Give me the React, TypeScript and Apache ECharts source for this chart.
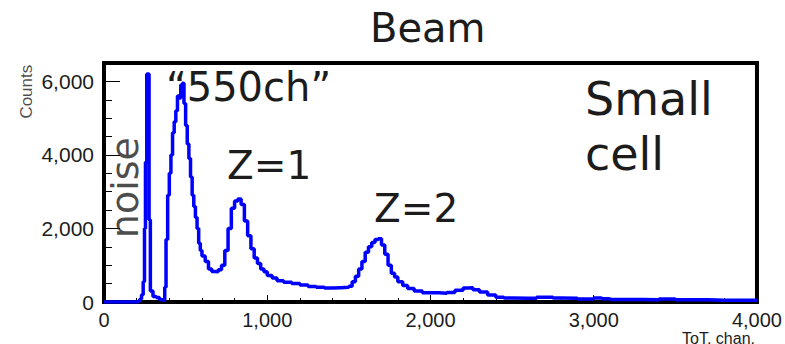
import React, { useEffect, useRef } from "react";
import * as echarts from "echarts";

// ToT channel (bin left edge) and counts
const toT = [
  0, 200, 210, 220, 230, 240, 248, 254, 262, 276, 284, 300, 320, 340, 360, 372, 380, 390, 400, 410,
  420, 430, 440, 450, 460, 470, 480, 490, 500, 510, 520, 530, 540, 550, 560, 570, 580, 590, 600, 620,
  640, 660, 680, 700, 720, 740, 760, 780, 800, 820, 840, 860, 880, 900, 920, 940, 960, 980, 1000, 1030,
  1060, 1100, 1150, 1200, 1250, 1300, 1350, 1400, 1450, 1500, 1520, 1540, 1560, 1580, 1600, 1620, 1640, 1660, 1680, 1700,
  1720, 1740, 1760, 1780, 1800, 1830, 1860, 1900, 1950, 2000, 2050, 2100, 2150, 2200, 2230, 2260, 2300, 2350, 2400, 2450,
  2500, 2600, 2650, 2700, 2750, 2800, 2900, 3000, 3050, 3100, 3200, 3300, 3400, 3500, 3600, 3700, 3800, 3900, 4000,
];
const counts = [
  0, 0, 30, 80, 200, 550, 2000, 3800, 6200, 2240, 300, 150, 120, 60, 50, 400, 1700, 2900, 3500, 4000,
  4600, 4900, 5200, 5600, 5550, 5900, 5950, 5400, 4800, 4300, 3900, 3400, 2900, 2600, 2300, 2000, 1600, 1400, 1250, 1100,
  900, 830, 820, 880, 1000, 1400, 2000, 2550, 2750, 2800, 2650, 2200, 1800, 1450, 1200, 1050, 900, 820, 720, 650,
  580, 540, 500, 460, 420, 400, 380, 390, 400, 430, 550, 700, 900, 1100, 1350, 1500, 1620, 1700, 1720, 1550,
  1300, 1000, 780, 680, 550, 450, 370, 300, 250, 250, 240, 260, 320, 380, 390, 330, 270, 190, 130, 110,
  100, 100, 130, 130, 110, 100, 80, 110, 90, 70, 70, 60, 80, 60, 60, 50, 50, 50, 50,
];

const xTicks = { min: 0, max: 4000, interval: 1000 };
const yTicks = { min: 0, max: 6500, interval: 2000 };

const DEJAVU = "DejaVu Sans";
const ARIAL = "Liberation Sans";
const INK = "#1c1c1c";

// anchors (in ToT / counts coordinates) for the two vertical texts
const verticalNotes = [
  { text: "noise", at: [128, 3110], font: DEJAVU, size: 38 },
  { text: "Counts", at: [-477, 5720], font: ARIAL, size: 17 },
];

const tt = (text: string, pos: Record<string, number>, font: string, size: number) => ({
  text,
  ...pos,
  padding: 0,
  itemGap: 0,
  textStyle: { fontFamily: font, fontSize: size, color: INK, fontWeight: "normal" },
});

export default function App() {
  const ref = useRef<HTMLDivElement>(null);
  useEffect(() => {
    document.body.style.margin = "0";
    const chart = echarts.init(ref.current!, null, { renderer: "svg" });
    const data = toT.map((t, i) => [t, counts[i]]);
    chart.setOption({
      animation: false,
      title: [
        tt("Beam", { left: 370, top: 8 }, DEJAVU, 40),
        tt("Small", { left: 585, top: 76 }, DEJAVU, 46),
        tt("cell", { left: 585, top: 131 }, DEJAVU, 46),
        tt("\u201c550ch\u201d", { left: 166, top: 67 }, DEJAVU, 40),
        tt("Z=1", { left: 227, top: 146 }, DEJAVU, 39),
        tt("Z=2", { left: 374, top: 189 }, DEJAVU, 39),
        tt("ToT, chan.", { right: 30, top: 330 }, ARIAL, 16),
      ],
      grid: { left: 104, right: 28, top: 63, bottom: 42, show: true, borderColor: "#000000", borderWidth: 4 },
      xAxis: {
        type: "value",
        min: xTicks.min,
        max: xTicks.max,
        interval: xTicks.interval,
        axisLine: { show: true, lineStyle: { color: "#000000", width: 3 } },
        axisTick: { show: true, inside: true, length: 7, lineStyle: { color: "#000000", width: 1 } },
        minorTick: { show: true, splitNumber: 5, length: 4, lineStyle: { color: "#000000", width: 1 } },
        splitLine: { show: false },
        axisLabel: { fontFamily: ARIAL, fontSize: 20, color: INK, margin: 8 },
      },
      yAxis: {
        type: "value",
        min: yTicks.min,
        max: yTicks.max,
        interval: yTicks.interval,
        axisLine: { show: true, lineStyle: { color: "#000000", width: 3 } },
        axisTick: { show: true, inside: true, length: 16, lineStyle: { color: "#000000", width: 1 } },
        minorTick: { show: true, splitNumber: 4, length: 8, lineStyle: { color: "#000000", width: 1 } },
        splitLine: { show: false },
        axisLabel: { fontFamily: ARIAL, fontSize: 21, color: INK, margin: 10, showMaxLabel: false, formatter: "{value}" },
      },
      series: [
        {
          type: "line",
          step: "end",
          data,
          showSymbol: false,
          lineStyle: { color: "#0000ff", width: 3.5 },
        },
        ...verticalNotes.map((n) => ({
          type: "scatter",
          silent: true,
          clip: false,
          symbolSize: 0,
          data: [n.at],
          z: 5,
          label: {
            show: true,
            position: "inside",
            rotate: 90,
            formatter: n.text,
            fontFamily: n.font,
            fontSize: n.size,
            color: INK,
          },
        })),
      ],
    });
    return () => chart.dispose();
  }, []);
  return <div ref={ref} style={{ width: 785, height: 344 }} />;
}
